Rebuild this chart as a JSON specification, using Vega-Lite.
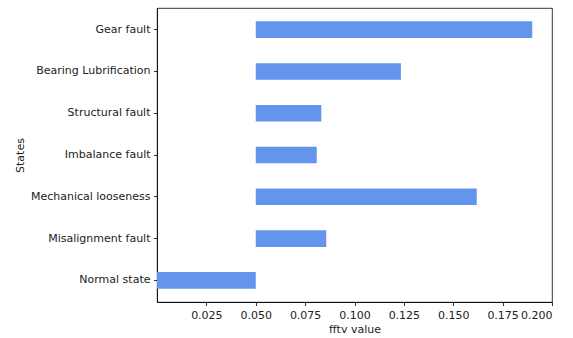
{
  "$schema": "https://vega.github.io/schema/vega-lite/v6.json",
  "width": 395,
  "height": 294,
  "autosize": {"type": "none"},
  "padding": {"left": 157, "top": 8, "right": 21, "bottom": 36},
  "background": "white",
  "data": {
    "values": [
      {"state": "Gear fault", "start": 0.05, "value": 0.190},
      {"state": "Bearing Lubrification", "start": 0.05, "value": 0.1235},
      {"state": "Structural fault", "start": 0.05, "value": 0.0832},
      {"state": "Imbalance fault", "start": 0.05, "value": 0.0809},
      {"state": "Mechanical looseness", "start": 0.05, "value": 0.1619},
      {"state": "Misalignment fault", "start": 0.05, "value": 0.0857},
      {"state": "Normal state", "start": 0.05, "value": 0.0}
    ]
  },
  "mark": {"type": "bar", "color": "#6495ED", "clip": true, "cornerRadius": 0},
  "encoding": {
    "y": {
      "field": "state",
      "type": "nominal",
      "sort": null,
      "title": "States",
      "scale": {"paddingInner": 0.6, "paddingOuter": 0.32}
    },
    "x": {
      "field": "start",
      "type": "quantitative",
      "title": "fftv value",
      "scale": {"domain": [0, 0.2], "nice": false, "zero": false},
      "axis": {
        "values": [0.025, 0.05, 0.075, 0.1, 0.125, 0.15, 0.175, 0.2],
        "format": ".3f",
        "grid": false
      }
    },
    "x2": {"field": "value"}
  },
  "config": {
    "font": "DejaVu Sans",
    "view": {"stroke": "black", "strokeWidth": 0.8},
    "axis": {
      "domainColor": "black",
      "domainWidth": 0.8,
      "tickColor": "black",
      "tickWidth": 0.8,
      "tickSize": 3.5,
      "labelPadding": 3.5,
      "labelFont": "DejaVu Sans",
      "labelFontSize": 11,
      "labelColor": "#222222",
      "titleFont": "DejaVu Sans",
      "titleFontSize": 11,
      "titleFontWeight": "normal",
      "titleColor": "#222222",
      "grid": false
    },
    "axisX": {"titlePadding": 3},
    "axisY": {"titlePadding": 5}
  }
}
